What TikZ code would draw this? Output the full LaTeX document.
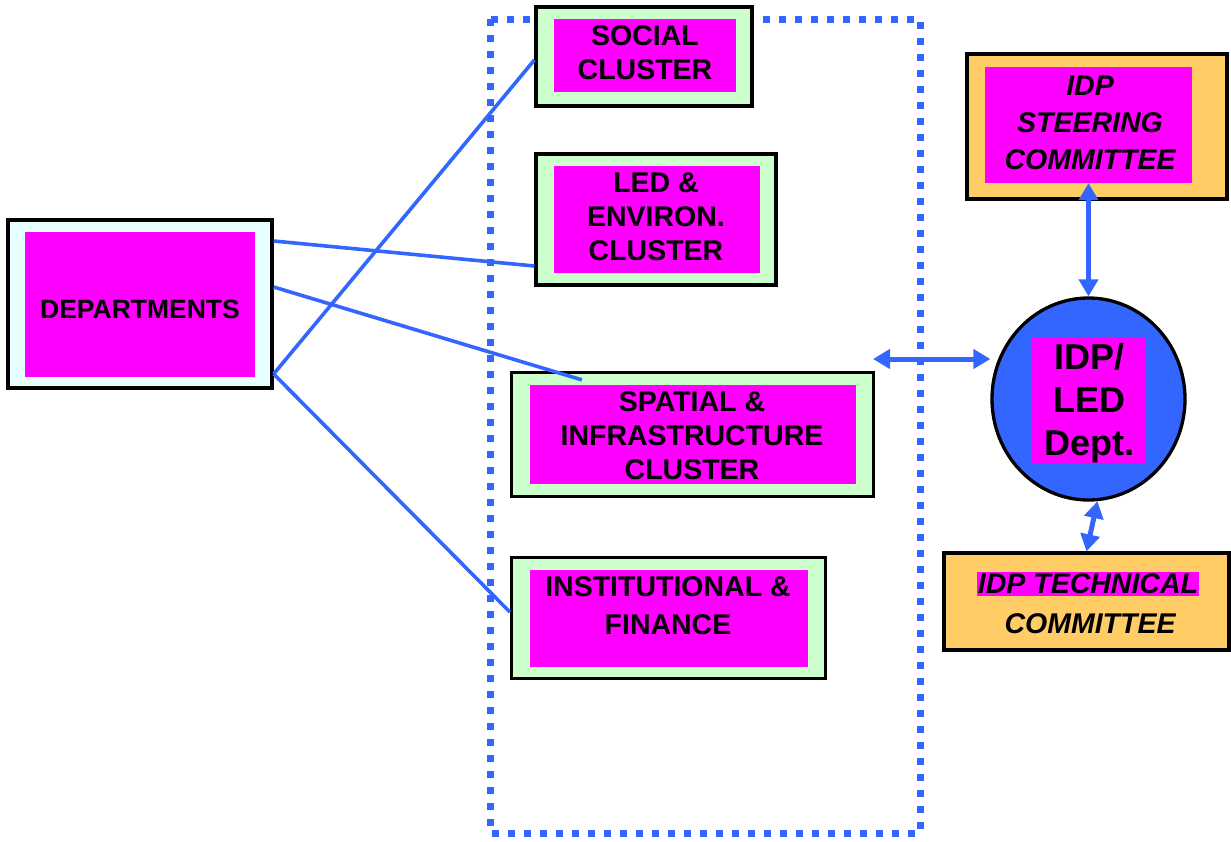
\documentclass[tikz,border=0pt]{standalone}
\usepackage{fontspec}
\setmainfont{Liberation Sans}
\usetikzlibrary{arrows.meta,calc,shapes.geometric}
\definecolor{mag}{HTML}{FF00FF}
\definecolor{lgreen}{HTML}{CCFFCC}
\definecolor{lcyan}{HTML}{E5FFFF}
\definecolor{orng}{HTML}{FFCC66}
\definecolor{bblue}{HTML}{3366FF}
\begin{document}
\begin{tikzpicture}[x=1pt,y=-1pt,
  outerbox/.style={draw=black,line width=3.3pt,rectangle,inner sep=0pt,fill=lgreen},
  innerbox/.style={fill=mag,rectangle,inner sep=0pt},
  lbl/.style={align=center,font=\fontsize{28.5}{34}\selectfont\bfseries,inner sep=0pt},
  ilbl/.style={align=center,font=\fontsize{28.5}{37}\selectfont\bfseries\itshape,inner sep=0pt},
  conn/.style={draw=bblue,line width=3.6pt},
  darrow/.style={draw=bblue,line width=5pt,{Triangle[width=19pt,length=17pt]}-{Triangle[width=19pt,length=17pt]}},
  dotbox/.style={draw=bblue,line width=7pt,dash pattern=on 7pt off 9pt}
]
\useasboundingbox (0,0) rectangle (1231,841);

% dotted cluster frame
\draw[dotbox] (490,19) rectangle (920,833);

% DEPARTMENTS
\node[outerbox,fill=lcyan,minimum width=264pt,minimum height=168pt] (dept) at (140,304) {};
\node[innerbox,minimum width=230pt,minimum height=145pt] (deptin) at (140,304.5) {};
\node[lbl,font=\fontsize{26.5}{32}\selectfont\bfseries] (deptlbl) at (140,309) {DEPARTMENTS};

% SOCIAL
\node[outerbox,minimum width=216pt,minimum height=99pt] (social) at (644,56.5) {};
\node[innerbox,minimum width=182pt,minimum height=73pt] (socialin) at (645,55.5) {};
\node[lbl] (sociallbl) at (645,53) {SOCIAL\\CLUSTER};

% LED
\node[outerbox,minimum width=240pt,minimum height=131pt] (led) at (656,219.5) {};
\node[innerbox,minimum width=206pt,minimum height=107pt] (ledin) at (657,219.5) {};
\node[lbl] (ledlbl) at (656,217) {LED \&\\ENVIRON.\\CLUSTER};

% SPATIAL
\node[outerbox,minimum width=362pt,minimum height=124pt] (spatial) at (692.5,434.5) {};
\node[innerbox,minimum width=326pt,minimum height=99pt] (spatialin) at (693,434.5) {};
\node[lbl] (spatiallbl) at (692,436) {SPATIAL \&\\INFRASTRUCTURE\\CLUSTER};

% INSTITUTIONAL
\node[outerbox,minimum width=314pt,minimum height=121pt] (inst) at (668.5,618) {};
\node[innerbox,minimum width=278pt,minimum height=97pt] (instin) at (669,618.5) {};
\node[lbl,font=\fontsize{28.5}{38}\selectfont\bfseries] (instlbl) at (668,606) {INSTITUTIONAL \&\\FINANCE};

% STEERING
\node[outerbox,fill=orng,minimum width=260pt,minimum height=145pt] (steer) at (1097,126.5) {};
\node[innerbox,minimum width=207pt,minimum height=116pt] (steerin) at (1088.5,125) {};
\node[ilbl] (steerlbl) at (1090,123) {IDP\\STEERING\\COMMITTEE};

% IDP/LED circle
\node[ellipse,draw=black,line width=3.3pt,fill=bblue,minimum width=193pt,minimum height=202pt,inner sep=0pt] (circ) at (1088.5,399) {};
\node[innerbox,minimum width=114pt,minimum height=126pt] (circin) at (1089,400) {};
\node[lbl,font=\fontsize{36}{43}\selectfont\bfseries] (circlbl) at (1089,403) {IDP/\\LED\\Dept.};

% TECHNICAL
\node[outerbox,fill=orng,minimum width=285pt,minimum height=97pt] (tech) at (1086.5,601.5) {};
\node[ilbl,fill=mag,inner ysep=2pt,inner xsep=1pt] (techl1) at (1088,584) {IDP TECHNICAL};
\node[ilbl] (techl2) at (1090,624) {COMMITTEE};

% connectors from departments
\draw[conn] ($(dept.east)+(0,70)$) -- ($(social.west)+(0,3.5)$);
\draw[conn] ($(dept.east)+(0,-63)$) -- ($(led.west)+(0,46.5)$);
\draw[conn] ($(dept.east)+(0,-17)$) -- ($(spatial.north west)+(72,9)$);
\draw[conn] ($(dept.east)+(0,70)$) -- ($(inst.west)+(0,-6)$);

% arrows
\coordinate (hleft) at (873,359);
\draw[darrow] (hleft) -- (hleft -| circ.west);
\draw[darrow] (steerin.south) -- (circ.north);
\draw[darrow] (circ.275) -- (tech.north);
\end{tikzpicture}
\end{document}
